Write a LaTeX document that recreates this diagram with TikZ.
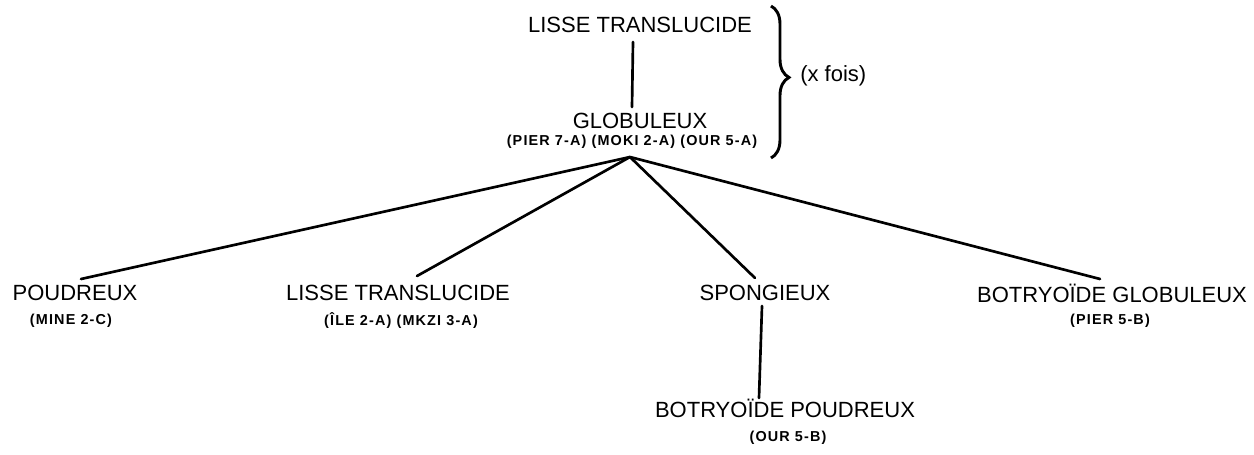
\documentclass[tikz,border=0pt]{standalone}
\usepackage{fontspec}
\setmainfont{Liberation Sans}
\newfontfamily\refsfont[LetterSpace=8]{Liberation Sans Bold}
\usetikzlibrary{decorations.pathreplacing}
\begin{document}
\begin{tikzpicture}[x=0.75pt,y=-0.75pt,
  big/.style={inner sep=0pt,font=\fontsize{16.5}{18}\selectfont},
  small/.style={inner sep=0pt,font=\fontsize{10.8}{12}\refsfont},
  link/.style={line width=2pt,line cap=round}]
\useasboundingbox (0,0) rectangle (1254,454);

% upper chain
\node[big]   (lt)    at (640,25)  {LISSE TRANSLUCIDE};
\node[big]   (glob)  at (640,121) {GLOBULEUX};
\node[small] (globs) at (632,142) {(PIER 7-A) (MOKI 2-A) (OUR 5-A)};
\draw[link] ([shift={(-7,17)}]lt.center) -- ([shift={(-8,-14)}]glob.center);

% brace with its repeat label
\draw[line width=2.2pt,decorate,decoration={brace,amplitude=13.5pt,aspect=0.47}]
  (771,6) -- (771,158);
\node[big,anchor=west] (fois) at (800,76) {(x fois)};

% branches
\coordinate (hub) at (630,157);
\node[big]   (poud)  at (75,293)   {POUDREUX};
\node[small] (pouds) at (71,321)   {(MINE 2-C)};
\node[big]   (lt2)   at (398,293)  {LISSE TRANSLUCIDE};
\node[small] (lt2s)  at (401,321)  {(ÎLE 2-A) (MKZI 3-A)};
\node[big]   (sp)    at (765,293)  {SPONGIEUX};
\node[big]   (bg)    at (1112,293) {BOTRYOÏDE GLOBULEUX};
\node[small] (bgs)   at (1110,321) {(PIER 5-B)};
\node[big]   (bp)    at (785,408)  {BOTRYOÏDE POUDREUX};
\node[small] (bps)   at (788,438)  {(OUR 5-B)};

\draw[link] (hub) -- ([shift={(6,-14)}]poud.center);
\draw[link] (hub) -- ([shift={(19,-17)}]lt2.center);
\draw[link] (hub) -- ([shift={(-10,-15)}]sp.center);
\draw[link] (hub) -- ([shift={(-12,-14)}]bg.center);
\draw[link] ([shift={(-3,13)}]sp.center) -- ([shift={(-26,-10)}]bp.center);
\end{tikzpicture}
\end{document}
